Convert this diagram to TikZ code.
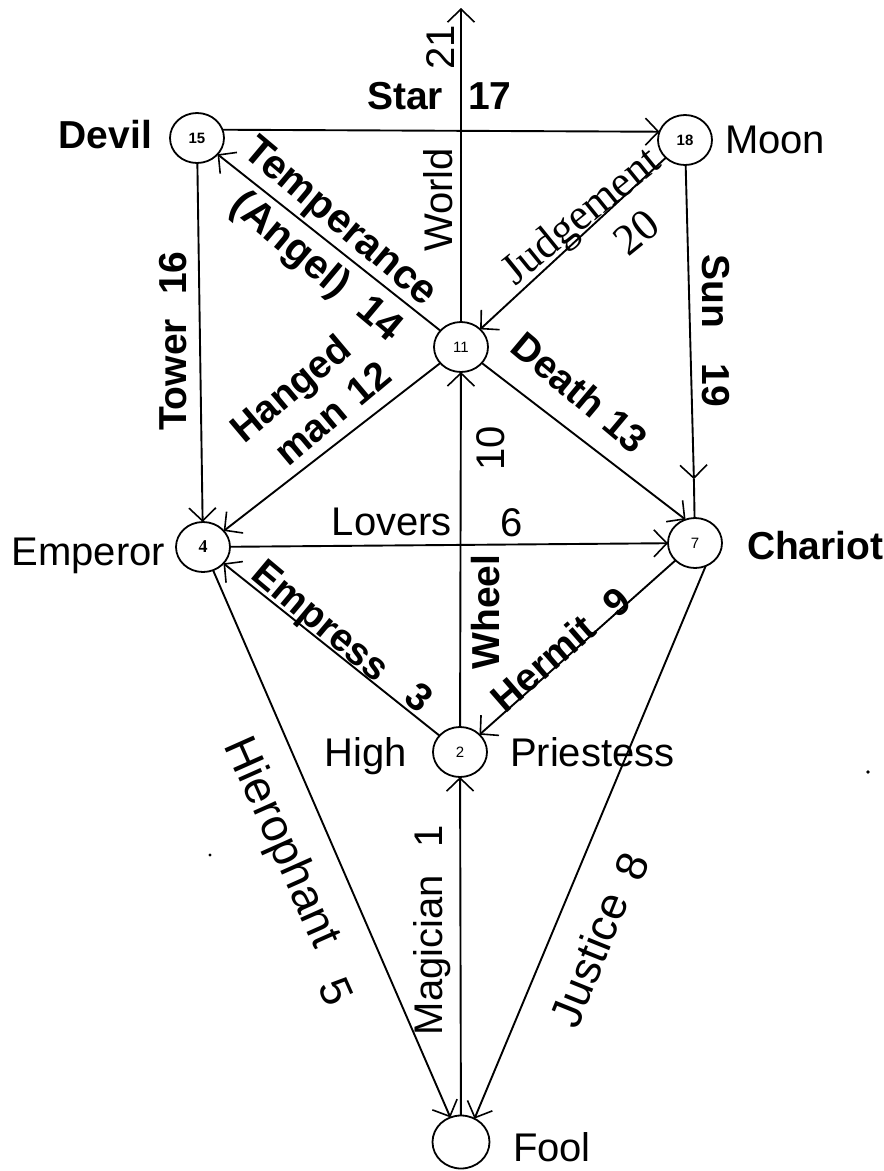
\documentclass[tikz,border=0pt]{standalone}
\usepackage{fontspec}
\setmainfont{Liberation Sans}
\newfontfamily\seriffont{Liberation Serif}
\usetikzlibrary{arrows.meta,shapes.geometric,calc}
\begin{document}
\begin{tikzpicture}[x=1pt,y=-1pt,
  every node/.style={inner sep=0pt, outer sep=0pt},
  vtx/.style={draw, ellipse, line width=1.8pt, minimum width=54pt, minimum height=50pt, inner sep=0pt, font=\fontsize{15}{15}\selectfont},
  arr/.style={line width=1.9pt, -{Straight Barb[length=13pt,width=27pt,line width=1.6pt]}},
  ln/.style={line width=1.9pt},
  lab/.style={font=\fontsize{40}{46}\selectfont, text height=29pt, text depth=0pt},
  blab/.style={font=\fontsize{39}{46}\selectfont\bfseries, text height=28pt, text depth=0pt},
  slab/.style={font=\seriffont\fontsize{44}{46}\selectfont, text height=29pt, text depth=0pt},
]
\useasboundingbox (0,0) rectangle (884,1171);
% vertices
\node[vtx,font=\fontsize{15}{15}\selectfont\bfseries] (n15) at (197,138) {15};
\node[vtx,font=\fontsize{15}{15}\selectfont\bfseries] (n18) at (685,140) {18};
\node[vtx] (n11) at (461,347) {11};
\node[vtx,font=\seriffont\fontsize{18}{18}\selectfont\bfseries] (n4) at (203,547) {4};
\node[vtx] (n7) at (695,543) {7};
\node[vtx] (n2) at (460,752) {2};
\node[vtx, minimum width=57pt, minimum height=53pt] (fool) at (461,1142) {};
\coordinate (top) at (461,8);
\coordinate (suntip) at ($(n18.south)!0.89!(n7.north)$);
% connectors
\draw[arr] (fool) -- (n2);
\draw[arr] (n2) -- (n4);
\draw[arr] (n4) -- (fool);
\draw[arr] (n4) -- (n7);
\draw[arr] (n7.-65) -- (fool.60);
\draw[arr] (n7) -- (n2);
\draw[arr] (n2) -- (n11);
\draw[arr] (n11) -- (n4);
\draw[arr] (n11) -- (n7.112);
\draw[arr] (n11) -- (n15);
\draw[arr] (n15) -- (n4);
\draw[arr] (n15.18) -- (n18.162);
\draw[arr] (n18) -- (suntip);
\draw[ln] (suntip) -- (n7);
\draw[arr] (n18) -- (n11);
\draw[arr] (n11) -- (top);
% labels
\node[blab, anchor=east] (star) at (443,95) {Star};
\node[blab, anchor=west] (s17) at (468,95) {17};
\node[lab, rotate=90] (w21) at (440,47) {21};
\node[lab, rotate=90] (world) at (438,200) {World};
\node[blab, anchor=east] (devil) at (152,134) {Devil};
\node[lab, anchor=west] (moon) at (725,139) {Moon};
\node[blab, rotate=-40, font=\fontsize{41}{46}\selectfont\bfseries] (temp) at (342,220) {Temperance};
\node[blab, rotate=-40, font=\fontsize{41}{46}\selectfont\bfseries] (angel) at (318,265) {(Angel)\ \ 14};
\node[slab, rotate=39] (judg) at (580,215) {Judgement};
\node[slab, rotate=39] (j20) at (636,232) {20};
\node[blab, rotate=-90] (sun) at (716,291) {Sun};
\node[blab, rotate=-90] (s19) at (716,385) {19};
\node[blab, rotate=90] (t16) at (172,273) {16};
\node[blab, rotate=90] (tower) at (172,375) {Tower};
\node[blab, rotate=40] (hanged) at (290,388) {Hanged};
\node[blab, rotate=40] (man12) at (332,413) {man\kern14pt 12};
\node[blab, rotate=-40] (death) at (580,392) {Death 13};
\node[lab, rotate=90] (ten) at (490,448) {10};
\node[blab, rotate=90] (wheel) at (485,612) {Wheel};
\node[lab, anchor=east] (lovers) at (452,521) {Lovers};
\node[lab] (six) at (512,522) {6};
\node[lab, anchor=east] (emperor) at (165,551) {Emperor};
\node[blab, anchor=west] (chariot) at (747,545) {Chariot};
\node[blab, rotate=-40] (empress) at (322,620) {Empress};
\node[blab, rotate=-40] (e3) at (420,697) {3};
\node[blab, rotate=41] (hermit) at (543,663) {Hermit};
\node[blab, rotate=41] (h9) at (616,602) {9};
\node[lab, anchor=east] (high) at (407,752) {High};
\node[lab, anchor=west] (priestess) at (510,752) {Priestess};
\node[lab, rotate=-66, font=\fontsize{46}{46}\selectfont] (hiero) at (283,842) {Hierophant};
\node[lab, rotate=-66, font=\fontsize{44}{46}\selectfont] (h5) at (336,992) {5};
\node[lab, rotate=90] (magician) at (428,955) {Magician};
\node[lab, rotate=90] (m1) at (428,836) {1};
\node[lab, rotate=68, font=\fontsize{45}{46}\selectfont] (justice) at (590,960) {Justice};
\node[lab, rotate=68, font=\fontsize{44}{46}\selectfont] (j8) at (633,867) {8};
\node[lab, anchor=west] (foollab) at (513,1147) {Fool};
% scan specks
\fill (210,855) circle (1.6pt);
\fill (868,772) circle (1.8pt);
\end{tikzpicture}
\end{document}
